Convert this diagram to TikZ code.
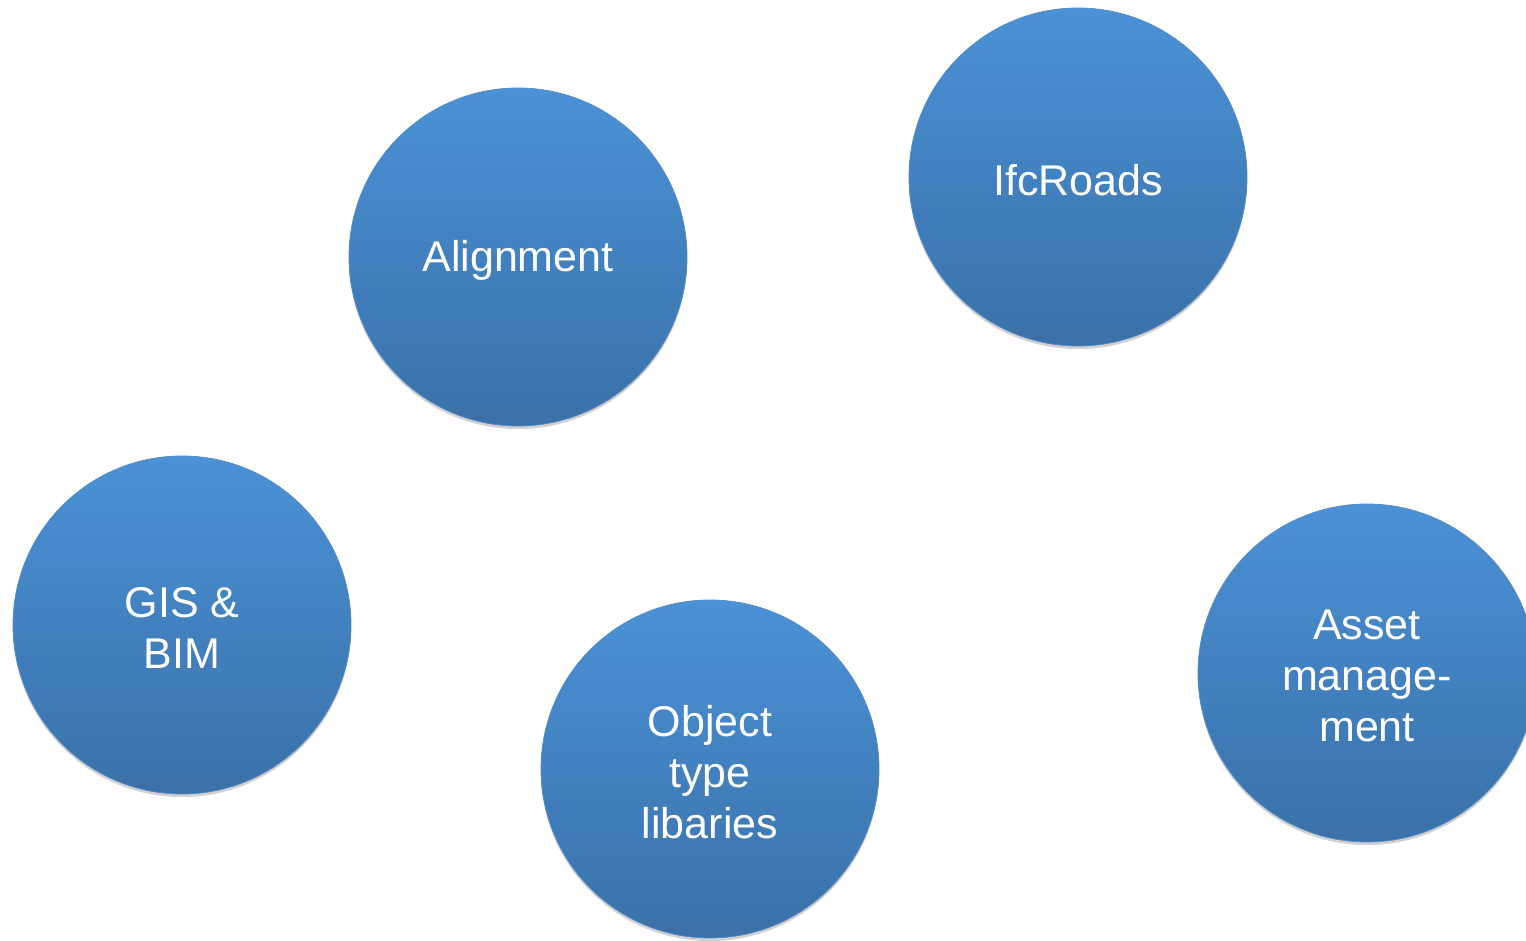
\documentclass[tikz,border=0pt]{standalone}
\usepackage{fontspec}
\setmainfont{Liberation Sans}
\usetikzlibrary{shadows}
\definecolor{topblue}{RGB}{74,145,214}
\definecolor{botblue}{RGB}{58,113,168}
\definecolor{edgeblue}{RGB}{86,140,198}
\tikzset{
  bubble/.style={circle, minimum size=338pt, inner sep=0pt,
    top color=topblue, bottom color=botblue, draw=edgeblue, line width=0.8pt,
    drop shadow={shadow xshift=0pt, shadow yshift=-3pt, opacity=0.3, fill=black!60}},
  bubbletext/.style={text=white, align=center, inner sep=0pt, yshift=-3pt,
    font=\fontsize{43}{51}\selectfont}
}
\begin{document}
\begin{tikzpicture}[x=1pt,y=1pt]
\useasboundingbox (0,0) rectangle (1526,940);
\node[bubble, label={[bubbletext]center:Alignment}] (align) at (518,683) {};
\node[bubble, label={[bubbletext]center:IfcRoads}] (ifc) at (1078,763) {};
\node[bubble, label={[bubbletext]center:{GIS \&\\BIM}}] (gis) at (182,315) {};
\node[bubble, label={[bubbletext]center:{Object\\type\\libaries}}] (otl) at (710,171) {};
\node[bubble, label={[bubbletext]center:{Asset\\manage-\\ment}}] (asset) at (1367,267) {};
\end{tikzpicture}
\end{document}
